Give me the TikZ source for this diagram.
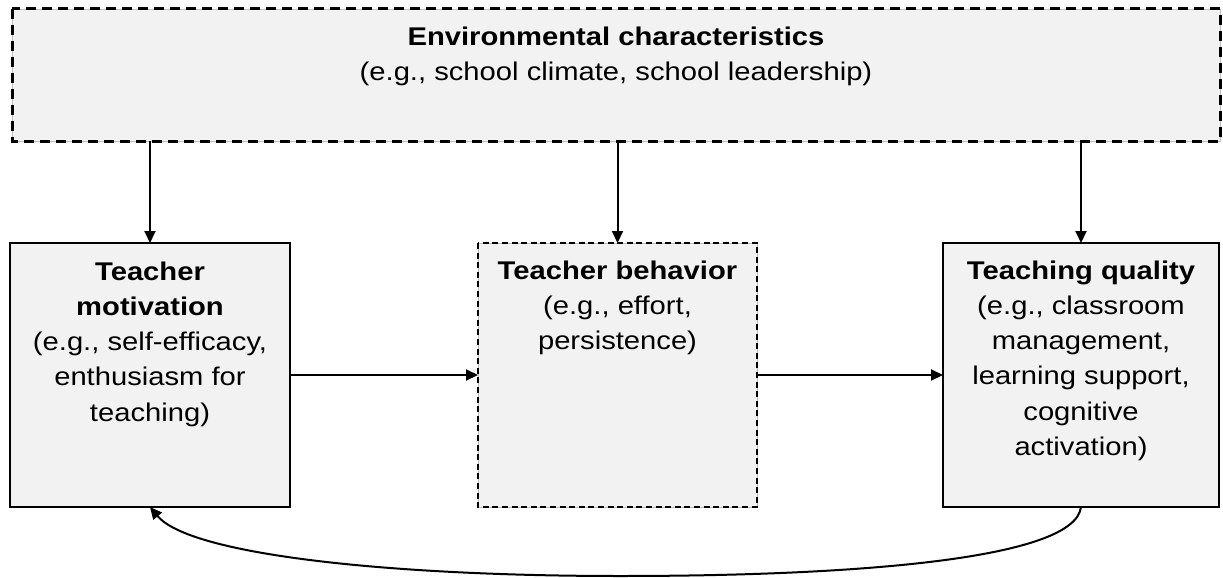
\documentclass[tikz,border=0pt]{standalone}
\usepackage{fontspec}
\setmainfont[FakeStretch=1.14]{Liberation Sans}
\usetikzlibrary{arrows.meta}
\definecolor{boxgray}{HTML}{F2F2F2}
\definecolor{thinedge}{HTML}{BFBFBF}
\begin{document}
\begin{tikzpicture}[x=1pt,y=-1pt,
  boxbase/.style={fill=boxgray, inner sep=0pt, outer sep=0pt, anchor=north west},
  solidbox/.style={boxbase, draw=black, line width=2pt},
  dashbox/.style={boxbase, draw=thinedge, line width=0.6pt},
  bigdash/.style={line width=3pt, dash pattern=on 10pt off 6pt},
  smalldash/.style={line width=2.2pt, dash pattern=on 6pt off 3.6pt},
  lbl/.style={font=\fontsize{25.6}{35.3}\selectfont, align=center, inner sep=0pt, anchor=north},
  arr/.style={line width=2pt, -{Triangle[length=12pt,width=11pt]}}]
\useasboundingbox (0,0) rectangle (1223,578);

% boxes
\node[dashbox, minimum width=1208pt, minimum height=132pt] (env) at (12,9) {};
\draw[bigdash] (env.north west) rectangle (env.south east);
\node[solidbox, minimum width=280pt, minimum height=264pt] (mot) at (10,243) {};
\node[dashbox, minimum width=279pt, minimum height=264pt] (beh) at (478,243) {};
\draw[smalldash] (beh.north west) rectangle (beh.south east);
\node[solidbox, minimum width=276pt, minimum height=264pt] (qual) at (943,243) {};

% labels
\node[lbl] (envt) at (616,26.3) {\textbf{Environmental characteristics}\\(e.g., school climate, school leadership)};
\node[lbl] (mott) at (150,261.3) {\textbf{Teacher}\\\textbf{motivation}\\(e.g., self-efficacy,\\enthusiasm for\\teaching)};
\node[lbl] (beht) at (617.5,260.3) {\textbf{Teacher behavior}\\(e.g., effort,\\persistence)};
\node[lbl] (qualt) at (1081,260.3) {\textbf{Teaching quality}\\(e.g., classroom\\management,\\learning support,\\cognitive\\activation)};

% connectors
\draw[arr] (env.south -| mot.north) -- (mot.north);
\draw[arr] (env.south -| beh.north) -- (beh.north);
\draw[arr] (env.south -| qual.north) -- (qual.north);
\draw[arr] (mot.east) -- (beh.west);
\draw[arr] (beh.east) -- (qual.west);
\coordinate (loopmid) at (620,576);
\draw[arr] (qual.south) .. controls (1075,560) and (850,576) .. (loopmid)
  .. controls (390,576) and (190,555) .. (mot.south);
\end{tikzpicture}
\end{document}
